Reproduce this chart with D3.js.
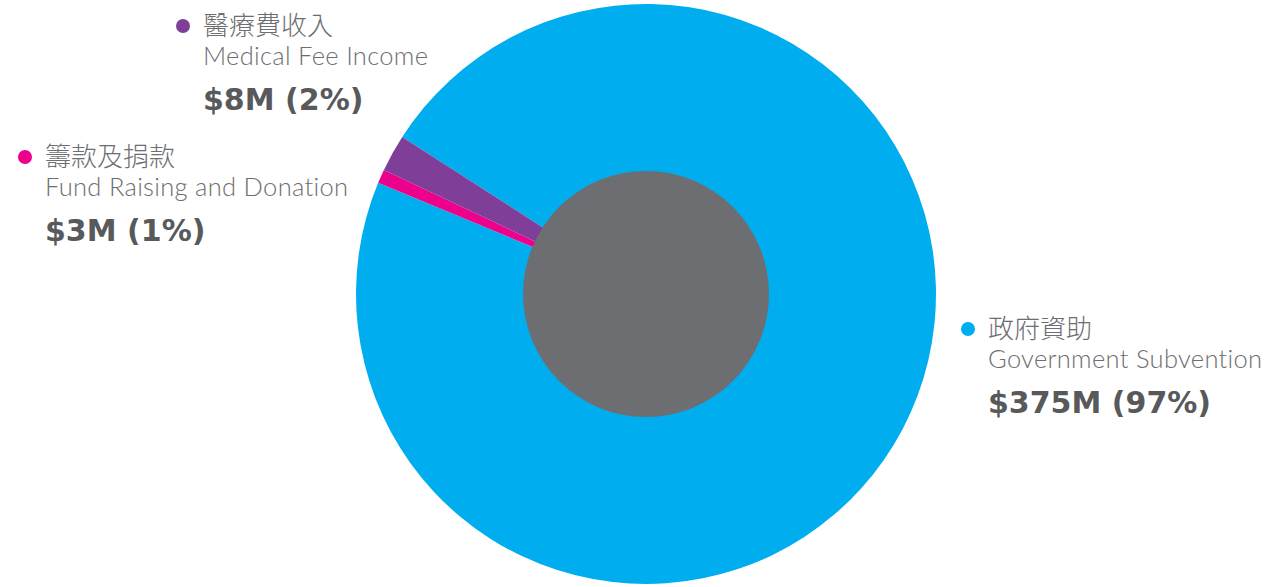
<!DOCTYPE html>
<html>
<head>
<meta charset="utf-8">
<script src="https://cdn.jsdelivr.net/npm/d3@7"></script>
<style>
  body { margin: 0; background: #fff; }
  .zh { font-family: "Noto Sans CJK TC", "Noto Sans", sans-serif; font-weight: 300; }
  .en { font-family: Lato, "Open Sans", sans-serif; font-weight: 300; letter-spacing: 0.3px; }
  .val { font-family: "DejaVu Sans", sans-serif; font-weight: bold; }
</style>
</head>
<body>
<div id="chart"></div>
<script>
// data
const namesZh = ["政府資助", "籌款及捐款", "醫療費收入"];
const namesEn = ["Government Subvention", "Fund Raising and Donation", "Medical Fee Income"];
const amounts = [375, 3, 8];
const valueLabels = ["$375M (97%)", "$3M (1%)", "$8M (2%)"];
const colors = ["#00aeef", "#ec008c", "#7f3f98"];

const width = 1265, height = 587;
const cx = 646, cy = 294;
const outerR = 290, innerR = 123;

const svg = d3.select("#chart").append("svg")
    .attr("width", width)
    .attr("height", height);

// pie, blue first, small slices end near 10 o'clock
const start = -57.2 * Math.PI / 180;
const pie = d3.pie()
    .sort(null)
    .value(d => d)
    .startAngle(start)
    .endAngle(start + 2 * Math.PI);

const arc = d3.arc()
    .innerRadius(0)
    .outerRadius(outerR);

const g = svg.append("g")
    .attr("transform", `translate(${cx},${cy})`);

g.selectAll("path.slice")
    .data(pie(amounts))
    .enter()
    .append("path")
    .attr("class", "slice")
    .attr("d", arc)
    .attr("fill", (d, i) => colors[i]);

// grey centre disc
g.append("circle")
    .attr("r", innerR)
    .attr("fill", "#6d6e71");

// labels
const labelPos = [
    {x: 988, y: 338},
    {x: 45, y: 166},
    {x: 203, y: 35}
];

const labels = svg.selectAll("g.label")
    .data(amounts)
    .enter()
    .append("g")
    .attr("class", "label")
    .attr("transform", (d, i) => `translate(${labelPos[i].x},${labelPos[i].y})`);

labels.append("circle")
    .attr("cx", -20)
    .attr("cy", -9)
    .attr("r", 7)
    .attr("fill", (d, i) => colors[i]);

labels.append("text")
    .attr("class", "zh")
    .attr("font-size", 26)
    .attr("fill", "#6d6e71")
    .text((d, i) => namesZh[i]);

labels.append("text")
    .attr("class", "en")
    .attr("y", 30)
    .attr("font-size", 25.5)
    .attr("fill", "#6d6e71")
    .text((d, i) => namesEn[i]);

labels.append("text")
    .attr("class", "val")
    .attr("y", 75)
    .attr("font-size", 30)
    .attr("fill", "#58595b")
    .text((d, i) => valueLabels[i]);
</script>
</body>
</html>
